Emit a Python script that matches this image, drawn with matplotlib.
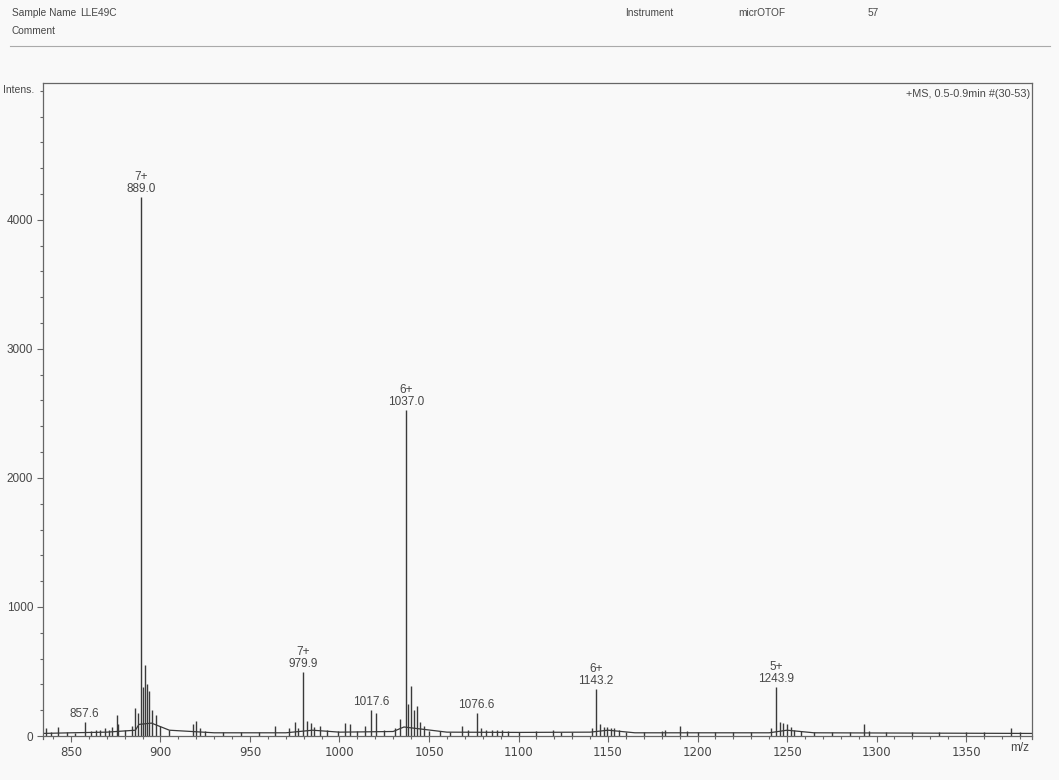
#!/usr/bin/env python3
"""Plot the micrOTOF +MS spectrum of sample LLE49C."""

import matplotlib
matplotlib.use('Agg')
import matplotlib.pyplot as plt
from matplotlib.ticker import MultipleLocator

# Centroid peaks (m/z, intensity)
peak_mz = [836, 839, 843, 848, 852, 857.6, 861, 864, 866.5, 869, 871, 873,
           875.5, 876.5, 880, 884, 885.8, 887.5, 889.0, 890.2, 891.4, 892.6,
           893.8, 895.2, 897.5, 900, 905, 918, 920, 922, 925, 935, 945, 955,
           964, 972, 975, 977, 979.9, 982, 984, 986, 989, 993, 999, 1003, 1006,
           1010, 1014, 1017.6, 1020.5, 1025, 1031, 1034, 1037.0, 1038.5, 1040,
           1041.5, 1043.3, 1045, 1047, 1050, 1056, 1062, 1068.5, 1072, 1076.6,
           1079, 1082, 1085, 1088, 1091, 1094, 1100, 1110, 1119, 1124, 1130,
           1141, 1143.2, 1145.5, 1147.5, 1149.5, 1151.5, 1153.5, 1156, 1160,
           1170, 1180, 1182, 1190, 1194, 1200, 1210, 1220, 1230, 1241, 1243.9,
           1246, 1248, 1250, 1252, 1254, 1258, 1265, 1275, 1285, 1293, 1296,
           1305, 1320, 1335, 1350, 1360, 1375, 1380]
peak_int = [60, 35, 70, 30, 25, 108, 40, 50, 45, 60, 45, 70,
            165, 90, 50, 80, 217, 180, 4178, 380, 550, 400,
            350, 200, 160, 80, 50, 90, 120, 60, 40, 30, 30, 35,
            80, 60, 110, 60, 496, 120, 100, 70, 80, 50, 40, 100, 95,
            40, 80, 200, 180, 50, 60, 130, 2527, 250, 390,
            200, 230, 110, 80, 40, 40, 35, 80, 50, 178,
            60, 50, 50, 45, 45, 40, 35, 40, 45, 35, 35,
            60, 364, 90, 70, 70, 65, 60, 45, 35,
            30, 40, 45, 80, 40, 35, 30, 35, 30, 60, 380,
            110, 100, 90, 70, 50, 40, 35, 30, 30, 90, 40,
            35, 30, 30, 30, 30, 60, 30]

# Noise floor under the peaks
base_mz = [834, 850, 870, 886, 888, 895, 905, 930, 970, 985, 1000, 1030,
           1036, 1045, 1060, 1100, 1140, 1150, 1165, 1240, 1250, 1265, 1387]
base_int = [20, 25, 30, 45, 90, 100, 45, 25, 25, 45, 30, 35,
            70, 55, 30, 28, 30, 45, 25, 25, 45, 25, 20]

# Labelled peaks: (m/z, charge label)
label_mz = [857.6, 889.0, 979.9, 1017.6, 1037.0, 1076.6, 1143.2, 1243.9]
label_charge = ['', '7+', '7+', '', '6+', '', '6+', '5+']

y_labels = [0, 1000, 2000, 3000, 4000]

ink = '#3a3a3a'
frame = '#666666'
text_col = '#474747'
sans = ['Liberation Sans', 'DejaVu Sans']

fig = plt.figure(figsize=(10.59, 7.80), dpi=100, facecolor='#f9f9f9')

# Report header
header = [(12, 13, 'Sample Name'), (80, 13, 'LLE49C'), (12, 31, 'Comment'),
          (625, 13, 'Instrument'), (738, 13, 'micrOTOF'), (868, 13, '57')]
for hx, hy, htxt in header:
    fig.text(hx / 1059, 1 - hy / 780, htxt, family=sans, fontsize=7.3,
             color=text_col, va='center')
fig.add_artist(plt.Line2D([10 / 1059, 1050 / 1059], [1 - 46 / 780, 1 - 46 / 780],
                          color='#aaaaaa', lw=0.8))

ax = fig.add_axes([43 / 1059, 1 - 738.6 / 780, (1032 - 43) / 1059, (738.6 - 83) / 780])
ax.set_facecolor('#f9f9f9')

ax.plot(base_mz, base_int, color=ink, lw=0.9)
ax.vlines(peak_mz, 0, peak_int, color=ink, lw=1.0)

lookup = dict(zip(peak_mz, peak_int))
for mz, charge in zip(label_mz, label_charge):
    txt = f'{charge}\n{mz:.1f}' if charge else f'{mz:.1f}'
    ax.annotate(txt, (mz, lookup[mz]), xytext=(0, 1.5), textcoords='offset points',
                ha='center', va='bottom', fontsize=8.5, color=text_col,
                linespacing=0.95, family=sans)

ax.set_xlim(834.4, 1386.8)
ax.set_ylim(-20, 5060)
ax.set_xticks([850, 900, 950, 1000, 1050, 1100, 1150, 1200, 1250, 1300, 1350])
ax.xaxis.set_minor_locator(MultipleLocator(10))
ax.set_yticks(y_labels)
ax.yaxis.set_minor_locator(MultipleLocator(200))
ax.tick_params(which='both', direction='out', colors=frame, labelcolor=text_col,
               labelsize=8.5, width=0.8)
ax.tick_params(which='major', length=4, pad=3)
ax.tick_params(which='minor', length=2.5)
for lab in ax.get_xticklabels() + ax.get_yticklabels():
    lab.set_family(sans)
for side in ['left', 'right', 'top', 'bottom']:
    ax.spines[side].set_color(frame)
    ax.spines[side].set_linewidth(0.9)
ax.spines['bottom'].set_position(('data', 0))

ax.text(1.0 - 2 / 989, 1 - 6 / 655, '+MS, 0.5-0.9min #(30-53)', transform=ax.transAxes,
        ha='right', va='top', fontsize=7.8, color=text_col, family=sans)
fig.text(3 / 1059, 1 - 90 / 780, 'Intens.', fontsize=7.5, color=text_col,
         va='center', family=sans)
fig.text(1020 / 1059, 1 - 748 / 780, 'm/z', fontsize=8.5, color=text_col,
         ha='center', va='center', family=sans)

fig.savefig('out.png', dpi=100, facecolor=fig.get_facecolor())
